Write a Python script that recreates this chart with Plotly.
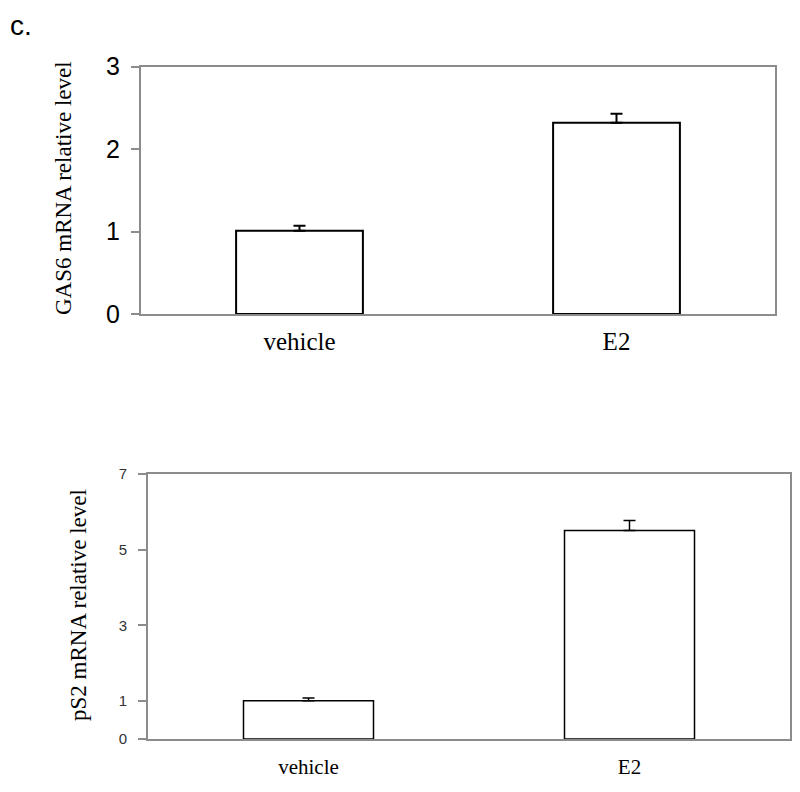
import plotly.graph_objects as go

categories = ["vehicle", "E2"]
gas6_values = [1.01, 2.32]
gas6_errors = [0.06, 0.11]
ps2_values = [1.01, 5.51]
ps2_errors = [0.07, 0.26]
gas6_ticks = [0, 1, 2, 3]
ps2_ticks = [0, 1, 3, 5, 7]

W, H, OFF = 792, 784, 8  # page body has an 8px margin


def px(x):
    return (x - OFF) / W


def py(y):
    return 1 - (y - OFF) / H


fig = go.Figure()

fig.add_trace(go.Bar(
    x=categories, y=gas6_values, width=0.4,
    marker=dict(color="white", line=dict(color="black", width=2)),
    error_y=dict(type="data", symmetric=False, array=gas6_errors, arrayminus=[0, 0],
                 color="black", thickness=2, width=6),
    xaxis="x", yaxis="y", showlegend=False,
))
fig.add_trace(go.Bar(
    x=categories, y=ps2_values, width=0.405,
    marker=dict(color="white", line=dict(color="black", width=1.5)),
    error_y=dict(type="data", symmetric=False, array=ps2_errors, arrayminus=[0, 0],
                 color="black", thickness=1.5, width=6),
    xaxis="x2", yaxis="y2", showlegend=False,
))

frame = dict(showline=True, linecolor="#8c8c8c", linewidth=2, mirror=True,
             showgrid=False, zeroline=False, automargin=False)

fig.update_layout(
    width=W, height=H,
    margin=dict(l=0, r=0, t=0, b=0),
    paper_bgcolor="white", plot_bgcolor="white",
    xaxis=dict(domain=[px(141), px(775)], anchor="y", range=[-0.5, 1.5],
               ticks="", tickfont=dict(family="Liberation Serif", size=25, color="black"),
               ticklabelstandoff=4, **frame),
    yaxis=dict(domain=[py(314), py(66.7)], anchor="x", range=[0, 3],
               tickvals=gas6_ticks, ticks="outside", ticklen=8, tickcolor="#8c8c8c",
               tickwidth=1.5,
               tickfont=dict(family="Liberation Sans", size=25, color="black"),
               ticklabelstandoff=6, **frame),
    xaxis2=dict(domain=[px(148), px(790)], anchor="y2", range=[-0.5, 1.5],
                ticks="", tickfont=dict(family="Liberation Serif", size=21, color="black"),
                ticklabelstandoff=8, **frame),
    yaxis2=dict(domain=[py(739), py(474)], anchor="x2", range=[0, 7],
                tickvals=ps2_ticks, ticks="outside", ticklen=8, tickcolor="#8c8c8c",
                tickwidth=1.5,
                tickfont=dict(family="Liberation Sans", size=15, color="#333333"),
                ticklabelstandoff=8, **frame),
    annotations=[
        dict(text="c.", x=0, y=1, xref="paper", yref="paper",
             xanchor="left", yanchor="top", showarrow=False,
             font=dict(family="Liberation Sans", size=28, color="black")),
        dict(text="GAS6 mRNA relative level", x=px(64), y=py(188),
             xref="paper", yref="paper", textangle=-90, showarrow=False,
             xanchor="center", yanchor="middle",
             font=dict(family="Liberation Serif", size=23, color="black")),
        dict(text="pS2 mRNA relative level", x=px(78), y=py(605),
             xref="paper", yref="paper", textangle=-90, showarrow=False,
             xanchor="center", yanchor="middle",
             font=dict(family="Liberation Serif", size=23, color="black")),
    ],
)

fig.write_html("out.html")
